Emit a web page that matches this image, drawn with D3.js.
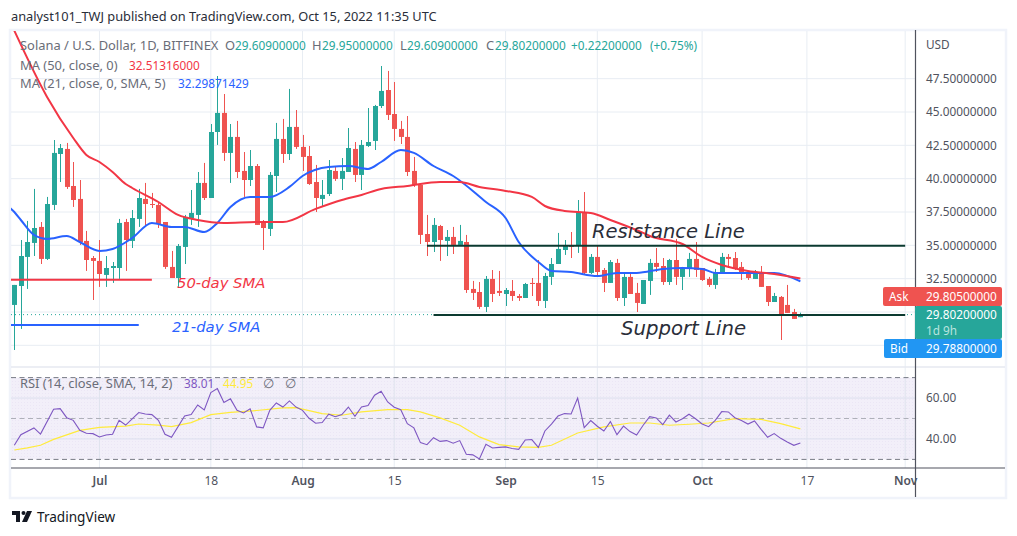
<!DOCTYPE html>
<html><head><meta charset="utf-8">
<script src="https://cdnjs.cloudflare.com/ajax/libs/d3/7.8.5/d3.min.js"></script>
<style>html,body{margin:0;padding:0;background:#fff}svg{display:block}text{font-family:"Noto Sans",sans-serif}</style>
</head><body><div id="c"></div>
<script>
const opens=[30.53,31.95,34.13,35.18,36.38,33.98,38.03,41.85,42.23,39.45,38.48,35.33,34.05,33.83,32.78,33.30,33.30,36.75,35.33,36.98,38.48,38.10,38.03,36.75,33.38,32.55,34.88,37.05,37.28,39.68,38.55,43.50,44.93,41.93,43.13,40.58,39.90,40.95,36.75,36.23,40.20,42.98,41.85,43.88,42.38,41.70,39.75,38.48,38.85,40.58,39.98,40.50,42.23,40.28,42.45,42.83,45.45,46.65,44.85,43.73,43.13,40.58,39.53,35.85,35.25,36.45,35.33,35.63,35.03,35.25,31.73,31.50,30.38,32.48,31.58,31.35,31.58,31.20,31.05,32.18,32.18,30.83,32.63,33.60,34.65,34.95,34.95,37.50,32.93,34.13,33.15,32.18,33.68,31.05,32.63,31.43,30.60,32.33,33.68,33.45,32.25,33.90,32.63,33.23,33.98,33.30,32.48,32.03,32.93,34.13,34.05,33.38,33.00,32.48,33.00,31.95,30.75,31.13,30.53,30.00,29.61];
const highs=[32.03,35.40,36.83,39.23,36.75,38.63,42.90,42.60,42.68,41.25,39.90,36.08,34.20,35.40,34.20,33.75,36.98,36.98,37.65,39.23,39.68,38.93,38.18,36.75,34.58,35.10,37.28,39.15,40.50,41.18,44.10,47.70,46.35,44.10,44.33,42.00,42.15,41.10,36.90,40.50,44.18,44.48,46.73,45.15,43.28,42.45,41.03,39.90,41.40,40.88,41.55,43.80,42.75,42.90,45.30,45.53,48.45,48.08,47.25,44.33,44.70,41.63,39.60,37.28,37.05,36.53,36.15,36.38,36.53,35.78,32.33,32.25,32.70,33.15,33.08,31.80,32.40,31.35,32.18,32.55,33.90,32.93,34.05,35.93,35.40,36.00,38.40,39.00,34.35,34.95,33.30,33.90,33.98,32.93,32.93,32.18,32.40,33.98,34.80,34.05,33.98,35.48,33.38,34.43,35.25,33.30,32.63,33.23,34.43,34.35,34.50,33.75,33.08,33.15,33.45,31.95,31.43,31.20,32.03,30.23,29.95];
const lows=[27.15,28.73,31.73,34.20,33.60,33.90,37.65,39.75,39.23,37.88,35.03,33.08,30.90,31.88,31.88,32.18,32.48,33.08,34.80,36.38,36.45,37.80,36.30,33.23,32.55,31.80,33.60,36.53,36.38,38.40,38.55,42.53,41.33,39.68,40.05,38.63,39.45,36.53,34.65,35.70,39.00,41.18,41.40,42.23,40.58,39.53,37.50,37.95,38.70,39.83,39.15,40.50,39.75,39.15,42.38,42.15,45.30,44.40,42.83,42.60,40.20,39.38,35.10,34.20,34.50,33.83,34.20,34.35,34.95,31.43,30.90,30.23,30.00,30.75,31.20,30.45,30.83,30.83,31.05,31.20,30.45,30.30,32.03,33.60,34.28,34.05,34.43,32.85,32.85,32.63,31.50,32.18,30.83,30.45,31.35,30.00,30.60,31.28,33.00,32.03,32.03,32.03,31.65,32.63,32.63,32.33,31.88,31.73,32.85,33.30,33.15,32.40,32.40,32.48,31.88,30.45,30.75,27.90,29.93,29.48,29.61];
const closes=[32.03,34.20,35.25,36.30,33.98,38.10,41.93,42.30,39.38,38.40,35.25,33.90,33.83,32.85,33.30,33.45,36.68,35.40,37.05,38.55,38.10,38.03,36.60,33.38,32.55,34.95,37.13,37.43,39.68,38.55,43.50,44.93,41.93,43.13,40.50,39.90,40.95,36.53,36.30,40.28,42.98,41.85,43.88,42.38,41.63,39.60,38.55,38.78,40.65,39.98,40.58,42.30,40.28,42.53,42.75,45.45,46.58,44.78,43.73,43.13,40.50,39.53,35.78,35.25,36.53,35.40,35.63,35.03,35.33,31.65,31.43,30.38,32.48,31.35,31.43,31.65,31.20,31.05,32.10,32.10,30.83,32.70,33.60,34.73,34.95,34.88,37.50,32.93,34.13,33.00,32.18,33.75,31.05,32.63,31.35,30.68,32.40,33.68,33.38,32.25,33.90,32.63,33.30,33.98,33.15,32.40,32.03,32.93,34.13,33.98,33.30,32.93,32.55,33.00,31.88,30.75,31.20,29.78,29.93,29.48,29.80];

const ma50Days=[0,5,9,11,13,15,17,18,22,25,28,32,37,41,46,50,53,56,60,65,68,71,75,79,81,84,88,91,96,97,102,105,108,112,116,120];
const ma50Vals=[51.1,46.13,43.05,41.78,41.25,40.5,39.6,39.3,38.25,37.28,36.9,36.68,36.75,36.75,37.73,38.4,38.78,39.23,39.45,39.75,39.75,39.38,39.08,38.63,37.95,37.58,37.43,36.9,35.93,35.7,35.1,34.13,33.53,33.08,32.85,32.51];
const ma21Days=[-1,0,1,3,5,8,10,13,15,18,21,24,26,29,31,33,36,39,42,44,48,51,54,56,59,61,64,67,72,75,77,80,82,85,89,92,95,99,102,105,107,111,116,120];
const ma21Vals=[37.95,37.5,36.9,35.78,35.48,35.7,35.25,34.58,34.73,35.55,36.68,36.38,36.38,36.0,36.68,37.88,38.63,38.63,39.38,40.2,40.88,40.95,40.73,41.25,42.15,41.93,40.95,40.2,38.25,37.05,35.25,33.75,33.08,33.0,32.7,32.93,32.93,33.23,33.3,33.23,32.93,32.93,32.93,32.3];

const rsiDays=[0,1,3,4,6,7,8,9,10,11,12,13,14,15,16,17,19,20,21,22,23,24,26,27,28,29,30,31,32,33,34,35,36,37,38,39,40,41,42,43,44,45,46,47,48,49,50,51,52,53,54,55,56,57,58,59,60,61,62,63,64,65,66,67,68,69,70,71,72,73,74,75,76,77,78,79,80,81,82,83,84,85,86,87,88,89,90,91,92,93,94,95,96,97,98,99,100,101,102,103,104,105,106,107,108,109,110,111,112,113,114,115,116,117,118,119,120];
const rsiVals=[36.9,42.1,45.4,42.4,54.5,54.8,50.4,49.1,44.2,42.8,42.6,41.0,41.9,42.3,49.1,46.8,52.9,52.2,51.9,49.1,42.3,40.8,51.2,51.9,56.6,54.2,62.7,64.6,57.8,59.6,54.0,52.7,54.7,45.9,45.4,54.0,57.6,55.6,58.6,55.6,54.0,50.1,47.7,48.0,52.1,50.9,51.9,55.6,51.1,55.6,56.3,61.4,63.3,58.1,55.5,54.3,47.5,45.4,38.2,37.2,40.6,38.8,39.2,37.9,39.2,32.5,32.2,30.2,37.4,35.6,35.9,36.1,35.3,34.9,39.5,39.7,35.9,43.9,47.3,51.2,52.4,52.2,60.0,45.5,49.0,46.2,43.9,48.5,42.1,46.3,43.6,41.9,46.7,50.9,50.3,47.0,51.6,48.3,49.9,52.1,49.9,47.3,46.0,49.1,53.4,53.2,50.4,49.0,47.3,48.8,44.7,40.8,42.6,40.3,38.5,36.9,38.01];
const rsiMaDays=[0,2,4,6,10,13,17,19,22,24,27,30,33,37,41,43,47,50,53,57,60,62,65,68,71,74,77,80,82,86,90,94,97,100,103,106,110,114,117,120];
const rsiMaVals=[34.6,35.6,36.9,39.8,44.2,45.7,46.3,47.3,46.8,46.0,48.0,51.9,53.0,53.9,55.2,55.3,52.4,51.6,53.2,54.3,54.3,53.2,50.3,46.7,41.0,37.2,36.1,35.9,36.9,42.9,45.9,47.8,47.8,46.7,47.2,47.8,49.9,49.6,47.5,44.95];

const priceTicks=[47.5,45,42.5,40,37.5,35,32.5];
const priceGrid=[47.5,45,42.5,40,37.5,35,32.5,30,27.5];
const rsiTicks=[60,40];
const timeTickDays=[13,30,44,58,75,89,105,121,136];
const timeTickLabels=["Jul","18","Aug","15","Sep","15","Oct","17","Nov"];
const boldLabels=["Jul","Aug","Sep","Oct","Nov"];
const resistance={level:34.97,from:63,to:136};
const support={level:29.78,from:64,to:136};
const sma50Key={level:32.42,from:-1,to:21};
const sma21Key={level:29.03,from:-1,to:19};
const askPrice=29.805,lastPrice=29.802,bidPrice=29.788;

const W=1017,H=536,F="'Noto Sans',sans-serif",DJ="'DejaVu Sans',sans-serif";
const L=11,R=915,FR=1005,PT=31,PB=367,RB=468,FB=497;
const UP="#26a69a",DN="#ef5350",RED="#f23645",BLU="#2962ff",GRID="#e8edf3",TXT="#50535e";

const x=d3.scaleLinear().domain([-0.504,137.5]).range([L,R]);
const y=d3.scaleLinear().domain([25.875,51.075]).range([PB,PT]);
const yr=d3.scaleLinear().domain([30,70]).range([459.4,377.6]);

const svg=d3.select("#c").append("svg").attr("width",W).attr("height",H);
const defs=svg.append("defs");
defs.append("clipPath").attr("id","pp").append("rect").attr("x",L).attr("y",PT).attr("width",R-L).attr("height",PB-PT);
const pat=defs.append("pattern").attr("id","dots").attr("width",3).attr("height",3).attr("patternUnits","userSpaceOnUse");
pat.append("rect").attr("width",3).attr("height",3).attr("fill","#f2eff9");
pat.append("rect").attr("width",1).attr("height",1).attr("fill","#ebe6f5");

// frame
svg.append("rect").attr("x",L-1).attr("y",PT-1).attr("width",FR-L+2).attr("height",FB-PT+2).attr("fill","#fff").attr("stroke","#f0f3fa").attr("stroke-width",2.5);

// grid
const g=svg.append("g");
g.selectAll(".hg").data(priceGrid).join("line").attr("x1",L).attr("x2",R).attr("y1",d=>y(d)).attr("y2",d=>y(d)).attr("stroke",GRID);
g.selectAll(".vg").data(timeTickDays).join("line").attr("x1",d=>x(d)).attr("x2",d=>x(d)).attr("y1",PT).attr("y2",RB).attr("stroke",GRID);
g.append("line").attr("x1",L).attr("x2",FR).attr("y1",PB).attr("y2",PB).attr("stroke","#e6e9f0").attr("stroke-width",1.5);

// RSI pane
const rp=svg.append("g");
rp.append("rect").attr("x",L).attr("width",R-L).attr("y",yr(70)).attr("height",yr(30)-yr(70)).attr("fill","url(#dots)");
rp.selectAll(".rg").data(rsiTicks).join("line").attr("x1",L).attr("x2",R).attr("y1",d=>yr(d)).attr("y2",d=>yr(d)).attr("stroke","#dcdfee");
rp.selectAll(".rv").data(timeTickDays).join("line").attr("x1",d=>x(d)).attr("x2",d=>x(d)).attr("y1",yr(70)).attr("y2",yr(30)).attr("stroke","#dfe3ee");
rp.selectAll(".rd").data([70,50,30]).join("line").attr("x1",L).attr("x2",R).attr("y1",d=>yr(d)).attr("y2",d=>yr(d))
  .attr("stroke",d=>d===50?"#aeb0b9":"#787b86").attr("stroke-dasharray","5 3.5");
const lr=d3.line().x(d=>x(d[0])).y(d=>yr(d[1]));
rp.append("path").attr("d",lr(rsiMaDays.map((d,i)=>[d,rsiMaVals[i]]))).attr("fill","none").attr("stroke","#ffeb3b").attr("stroke-width",1.2);
rp.append("path").attr("d",lr(rsiDays.map((d,i)=>[d,rsiVals[i]]))).attr("fill","none").attr("stroke","#7e57c2").attr("stroke-width",1.1);

// price pane
const main=svg.append("g").attr("clip-path","url(#pp)");
main.append("line").attr("x1",L).attr("x2",R).attr("y1",y(lastPrice)).attr("y2",y(lastPrice)).attr("stroke",UP).attr("stroke-dasharray","1 3");
const c=main.selectAll(".c").data(opens.map((o,i)=>({i,o,h:highs[i],l:lows[i],c:closes[i]}))).join("g");
c.append("line").attr("x1",d=>Math.round(x(d.i))+.5).attr("x2",d=>Math.round(x(d.i))+.5).attr("y1",d=>y(d.h)).attr("y2",d=>y(d.l)).attr("stroke",d=>d.c>=d.o?UP:DN);
c.append("rect").attr("x",d=>Math.round(x(d.i))-2).attr("width",5).attr("y",d=>y(Math.max(d.o,d.c))).attr("height",d=>Math.max(1,Math.abs(y(d.o)-y(d.c)))).attr("fill",d=>d.c>=d.o?UP:DN);
const lm=d3.line().x(d=>x(d[0])).y(d=>y(d[1])).curve(d3.curveMonotoneX);
main.append("path").attr("d",lm(ma21Days.map((d,i)=>[d,ma21Vals[i]]))).attr("fill","none").attr("stroke",BLU).attr("stroke-width",2);
main.append("path").attr("d",lm(ma50Days.map((d,i)=>[d,ma50Vals[i]]))).attr("fill","none").attr("stroke",RED).attr("stroke-width",2);

// annotation lines
const seg=(o,col,w)=>main.append("line").attr("x1",x(o.from)).attr("x2",x(o.to)).attr("y1",y(o.level)).attr("y2",y(o.level)).attr("stroke",col).attr("stroke-width",w);
seg(resistance,"#0b3a30",2); seg(support,"#0b3a30",2);
seg(sma50Key,RED,2); seg(sma21Key,BLU,2);
const note=(t,xp,yp,s,col)=>svg.append("text").attr("x",xp).attr("y",yp).attr("font-size",s).attr("font-style","italic").attr("fill",col).style("font-family",DJ).text(t);
note("Resistance Line",592,238,19.5,"#2a2e39");
note("Support Line",621,335,19.7,"#2a2e39");
note("50-day SMA",177,288,14.8,RED);
note("21-day SMA",172,332,14.8,BLU);

// axes
svg.append("line").attr("x1",L).attr("x2",FR).attr("y1",RB).attr("y2",RB).attr("stroke","#50535e").attr("stroke-width",1.2);
svg.append("line").attr("x1",R+.5).attr("x2",R+.5).attr("y1",PT-1).attr("y2",FB).attr("stroke","#50535e").attr("stroke-width",1.2);
const ax=svg.append("g").attr("transform",`translate(${R+11},0)`).call(d3.axisRight(y).tickValues(priceTicks).tickFormat(d3.format(".8f")).tickSize(0).tickPadding(0));
ax.select(".domain").remove();
ax.selectAll("text").attr("font-family",F).attr("font-size",11.8).attr("fill",TXT);
const ax2=svg.append("g").attr("transform",`translate(${R+11},0)`).call(d3.axisRight(yr).tickValues(rsiTicks).tickFormat(d3.format(".2f")).tickSize(0).tickPadding(0));
ax2.select(".domain").remove();
ax2.selectAll("text").attr("font-family",F).attr("font-size",11.8).attr("fill",TXT);
const ax3=svg.append("g").attr("transform",`translate(0,${RB+8})`).call(d3.axisBottom(x).tickValues(timeTickDays).tickFormat((d,i)=>timeTickLabels[i]).tickSize(0).tickPadding(0));
ax3.select(".domain").remove();
ax3.selectAll("text").attr("font-family",F).attr("font-size",12).attr("fill",TXT).attr("font-weight",(d,i)=>boldLabels.includes(timeTickLabels[i])?600:400);
svg.append("text").attr("x",926).attr("y",49).attr("font-size",11.8).attr("fill",TXT).text("USD");

// header
const t=(tx,xp,yp,s,col,w)=>{const e=svg.append("text").attr("x",xp).attr("y",yp).attr("font-size",s).attr("fill",col).text(tx);if(w)e.attr("font-weight",w);return e;};
t("analyst101_TWJ published on TradingView.com, Oct 15, 2022 11:35 UTC",11,21,12.8,"#2a2e39");
const LB="#6a6d78";
const row=(parts,yp)=>{const e=svg.append("text").attr("y",yp);parts.forEach(p=>{e.append("tspan").attr("x",p[0]).attr("fill",p[2]).attr("font-size",p[2]===LB?12.9:11.8).text(p[1]);});};
row([[20,"Solana / U.S. Dollar, 1D, BITFINEX",LB],[225,"O",LB],[235,"29.60900000",UP],[312,"H",LB],[322,"29.95000000",UP],[400,"L",LB],[407,"29.60900000",UP],[486,"C",LB],[495,"29.80200000",UP],[571,"+0.22200000",UP],[650,"(+0.75%)",UP]],50);
row([[20,"MA (50, close, 0)",LB],[129,"32.51316000",RED]],69.5);
row([[20,"MA (21, close, 0, SMA, 5)",LB],[178,"32.29871429",BLU]],88);
row([[20,"RSI (14, close, SMA, 14, 2)",LB],[184,"38.01","#7e57c2"],[223,"44.95","#ffeb3b"],[263,"∅",LB],[285,"∅",LB]],388);

// price tags
const tag=(x0,x1,y0,y1,col)=>svg.append("rect").attr("x",x0).attr("y",y0).attr("width",x1-x0).attr("height",y1-y0).attr("rx",2).attr("fill",col);
tag(883,1002,287,306,DN); tag(884,1002,339,358,"#2196f3"); tag(915,1002,306,339,UP);
const f8=d3.format(".8f");
t("Ask",889,301,11.8,"#fff"); t(f8(askPrice),926,301,11.8,"#fff");
t(f8(lastPrice),926,319,11.8,"#fff"); t("1d 9h",926,335,11.8,"#b9e4df");
t("Bid",890,353,11.8,"#fff"); t(f8(bidPrice),926,353,11.8,"#fff");

// logo
const lg=svg.append("g").attr("fill","#131722");
lg.append("path").attr("d","M12 511H20V522H16V515H12Z");
lg.append("circle").attr("cx",23.5).attr("cy",513).attr("r",2);
lg.append("path").attr("d","M27 511H32L27 522H22Z");
t("TradingView",37,522,13.6,"#131722");
</script></body></html>
